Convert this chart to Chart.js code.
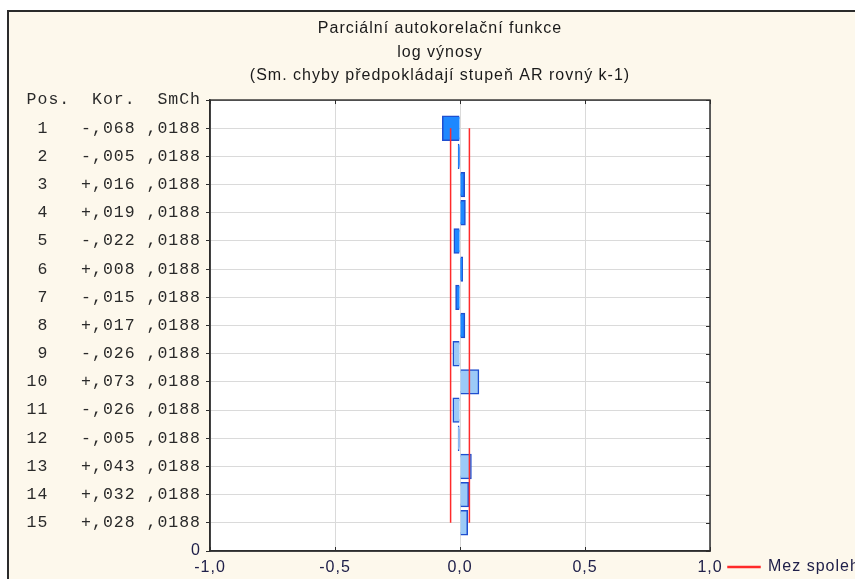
<!DOCTYPE html>
<html>
<head>
<meta charset="utf-8">
<script src="https://cdn.jsdelivr.net/npm/chart.js@4"></script>
<style>
  html, body { margin: 0; padding: 0; background: #ffffff; overflow: hidden; width: 855px; height: 579px; }
  #frame { position: absolute; left: 7px; top: 10px; border: 2px solid #2b2b2b; background: #fdf8ec; }
  #c { display: block; }
</style>
</head>
<body>
<div id="frame"><canvas id="c" width="862" height="581"></canvas></div>
<script>
// ---- data ----
const lags = [1, 2, 3, 4, 5, 6, 7, 8, 9, 10, 11, 12, 13, 14, 15];
const pacf = [-0.068, -0.005, 0.016, 0.019, -0.022, 0.008, -0.015, 0.017, -0.026, 0.073, -0.026, -0.005, 0.043, 0.032, 0.028];
const stdErr = [0.0188, 0.0188, 0.0188, 0.0188, 0.0188, 0.0188, 0.0188, 0.0188, 0.0188, 0.0188, 0.0188, 0.0188, 0.0188, 0.0188, 0.0188];
const upperLimit = [0.0376, 0.0376, 0.0376, 0.0376, 0.0376, 0.0376, 0.0376, 0.0376, 0.0376, 0.0376, 0.0376, 0.0376, 0.0376, 0.0376, 0.0376];
const lowerLimit = [-0.0376, -0.0376, -0.0376, -0.0376, -0.0376, -0.0376, -0.0376, -0.0376, -0.0376, -0.0376, -0.0376, -0.0376, -0.0376, -0.0376, -0.0376];
const tableHeader = 'Pos.  Kor.  SmCh';
const tableRows = [
  ' 1   -,068 ,0188',
  ' 2   -,005 ,0188',
  ' 3   +,016 ,0188',
  ' 4   +,019 ,0188',
  ' 5   -,022 ,0188',
  ' 6   +,008 ,0188',
  ' 7   -,015 ,0188',
  ' 8   +,017 ,0188',
  ' 9   -,026 ,0188',
  '10   +,073 ,0188',
  '11   -,026 ,0188',
  '12   -,005 ,0188',
  '13   +,043 ,0188',
  '14   +,032 ,0188',
  '15   +,028 ,0188'
];
const bottomLabel = '0';
const xTickLabels = ['-1,0', '-0,5', '0,0', '0,5', '1,0'];
const titleLines = ['Parciální autokorelační funkce', 'log výnosy', '(Sm. chyby předpokládají stupeň AR rovný k-1)'];
const legendLabel = 'Mez spolehlivosti';
const barFills = ['#1e88ff', '#1e88ff', '#1e88ff', '#1e88ff', '#1e88ff', '#1e88ff', '#1e88ff', '#1e88ff',
                  '#9ccaf7', '#9ccaf7', '#9ccaf7', '#9ccaf7', '#9ccaf7', '#9ccaf7', '#9ccaf7'];

// category rows: header on top, lags, "0" at bottom
const yLabels = [tableHeader, ...tableRows, bottomLabel];
const pad = arr => [null, ...arr, null];

const SANS = '"Liberation Sans", Arial, sans-serif';
const MONO = '"Liberation Mono", "Courier New", monospace';
const SPACING = '1px';
const spacingPlugin = {
  id: 'spacing',
  beforeUpdate(chart) { chart.ctx.letterSpacing = SPACING; },
  beforeDraw(chart) { chart.ctx.letterSpacing = SPACING; }
};
const plotFrame = {
  id: 'plotFrame',
  beforeDraw(chart) {
    const a = chart.chartArea, ctx = chart.ctx;
    ctx.save();
    ctx.fillStyle = '#ffffff';
    ctx.fillRect(a.left, a.top, a.right - a.left, a.bottom - a.top);
    ctx.restore();
  },
  afterDraw(chart) {
    const a = chart.chartArea, ctx = chart.ctx;
    const ys = chart.scales.y, xs = chart.scales.x;
    ctx.save();
    ctx.strokeStyle = '#2e2e2e';
    ctx.lineWidth = 1.5;
    ctx.strokeRect(a.left, a.top, a.right - a.left, a.bottom - a.top);
    // small inner tick marks on the right, top and bottom edges
    ctx.lineWidth = 1;
    ctx.beginPath();
    ys.ticks.forEach((t, i) => {
      const y = Math.round(ys.getPixelForTick(i)) + 0.5;
      ctx.moveTo(a.right - 4, y); ctx.lineTo(a.right, y);
    });
    xs.ticks.forEach((t, i) => {
      const x = Math.round(xs.getPixelForTick(i)) + 0.5;
      ctx.moveTo(x, a.top); ctx.lineTo(x, a.top + 4);
      ctx.moveTo(x, a.bottom - 4); ctx.lineTo(x, a.bottom);
    });
    ctx.stroke();
    ctx.restore();
  }
};

new Chart(document.getElementById('c'), {
  type: 'bar',
  data: {
    labels: yLabels,
    datasets: [
      {
        type: 'bar',
        label: 'Kor.',
        data: pad(pacf),
        backgroundColor: pad(barFills),
        borderColor: '#1f4fd0',
        borderWidth: 1.5,
        inflateAmount: 1,
        categoryPercentage: 1.0,
        barPercentage: 0.83,
        order: 2
      },
      {
        type: 'line',
        label: legendLabel,
        data: pad(upperLimit),
        borderColor: '#ff2a2a',
        backgroundColor: '#ff2a2a',
        borderWidth: 1.5,
        pointRadius: 0,
        fill: false,
        order: 1
      },
      {
        type: 'line',
        label: legendLabel + ' ',
        data: pad(lowerLimit),
        borderColor: '#ff2a2a',
        backgroundColor: '#ff2a2a',
        borderWidth: 1.5,
        pointRadius: 0,
        fill: false,
        order: 1
      }
    ]
  },
  options: {
    indexAxis: 'y',
    responsive: false,
    animation: false,
    devicePixelRatio: 1,
    layout: { padding: 0 },
    plugins: {
      tooltip: { enabled: false },
      title: {
        display: true,
        text: titleLines,
        color: '#1a1a1a',
        font: { family: SANS, size: 16, weight: 'normal', lineHeight: 1.47 },
        padding: { top: 5, bottom: 12.5 }
      },
      legend: {
        display: true,
        position: 'right',
        align: 'end',
        maxWidth: 161,
        labels: {
          filter: item => item.datasetIndex === 1,
          boxWidth: 32,
          boxHeight: 1,
          padding: 18,
          color: '#20204a',
          font: { family: SANS, size: 16 }
        }
      }
    },
    scales: {
      x: {
        type: 'linear',
        position: 'bottom',
        min: -1,
        max: 1,
        afterFit(scale) { scale.height = 42; },
        ticks: {
          stepSize: 0.5,
          padding: 7,
          color: '#20204a',
          font: { family: SANS, size: 16 },
          callback: (value, index) => xTickLabels[index]
        },
        grid: { color: '#dadada', lineWidth: 1, drawTicks: false },
        border: { display: true, color: '#2e2e2e', width: 1.5 }
      },
      y: {
        type: 'category',
        position: 'left',
        offset: false,
        afterFit(scale) { scale.width = 201; },
        ticks: {
          autoSkip: false,
          padding: 5,
          color: ctx => ctx.index === yLabels.length - 1 ? '#20204a' : '#2a2a2a',
          font: ctx => ctx.index === yLabels.length - 1
            ? { family: SANS, size: 16 }
            : { family: MONO, size: 16.5 }
        },
        grid: { color: '#dadada', lineWidth: 1, offset: false, tickLength: 4, tickColor: '#2e2e2e' },
        border: { display: true, color: '#2e2e2e', width: 1.5 }
      }
    }
  },
  plugins: [spacingPlugin, plotFrame]
});
</script>
</body>
</html>
